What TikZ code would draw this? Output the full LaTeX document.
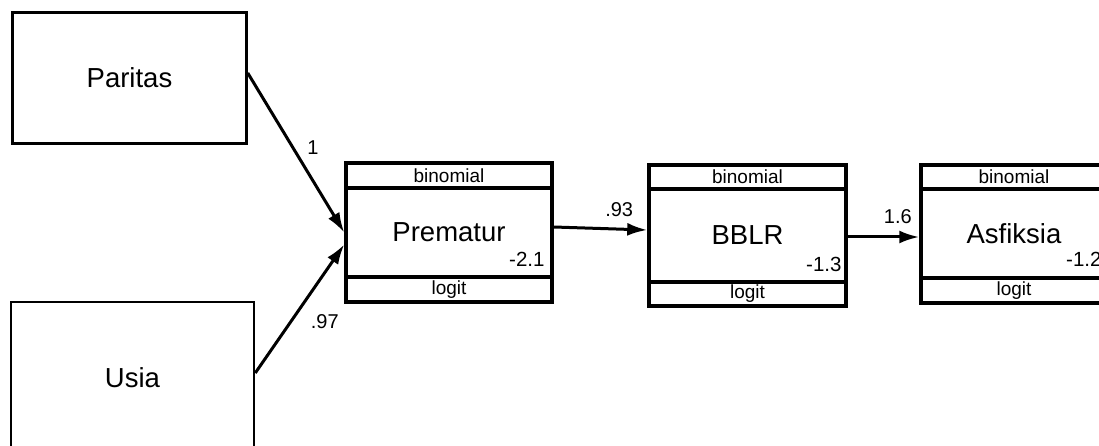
\documentclass[tikz,border=0pt]{standalone}
\usepackage{fontspec}
\setmainfont{Liberation Sans}
\usetikzlibrary{arrows.meta,positioning,calc}

\begin{document}
\begin{tikzpicture}[x=1pt,y=-1pt,
    exo/.style={draw,line width=2.5pt,font=\fontsize{27.5}{30}\selectfont},
    endo/.style={draw,line width=3.5pt,inner sep=0pt,font=\fontsize{27.5}{30}\selectfont},
    band/.style={draw,line width=3.5pt,inner sep=0pt,font=\fontsize{19}{21}\selectfont},
    icpt/.style={anchor=base east,inner sep=0pt,font=\fontsize{20.5}{22}\selectfont},
    link/.style={line width=3pt,-{Latex[length=20pt,width=13pt]}},
    coef/.style={inner sep=0pt,font=\fontsize{20}{22}\selectfont}]
    \path[use as bounding box,clip] (0,0) rectangle (1099,446);

    \node[exo,minimum width=234pt,minimum height=131pt] (par) at (129.5,78) {Paritas};
    \node[exo,minimum width=243pt,minimum height=152pt] (usia) at (132.5,378) {Usia};

    \node[endo,minimum width=206pt,minimum height=139pt] (prem) at (449,232.5) {Prematur};
    \node[band,minimum width=206pt,minimum height=25pt,anchor=north] (prem-t) at (prem.north) {binomial};
    \node[band,minimum width=206pt,minimum height=25pt,anchor=south] (prem-b) at (prem.south) {logit};
    \node[icpt] (prem-c) at ($(prem-b.north east)+(-9,-9)$) {-2.1};

    \node[endo,minimum width=197pt,minimum height=141pt] (bblr) at (747.5,235.5) {BBLR};
    \node[band,minimum width=197pt,minimum height=24pt,anchor=north] (bblr-t) at (bblr.north) {binomial};
    \node[band,minimum width=197pt,minimum height=24pt,anchor=south] (bblr-b) at (bblr.south) {logit};
    \node[icpt] (bblr-c) at ($(bblr-b.north east)+(-6,-9)$) {-1.3};

    \node[endo,minimum width=186pt,minimum height=138pt] (asf) at (1014,234) {Asfiksia};
    \node[band,minimum width=186pt,minimum height=24pt,anchor=north] (asf-t) at (asf.north) {binomial};
    \node[band,minimum width=186pt,minimum height=25pt,anchor=south] (asf-b) at (asf.south) {logit};
    \node[icpt] (asf-c) at ($(asf-b.north east)+(-7,-10)$) {-1.2};

    \draw[link] ([yshift=5pt]par.east) -- (prem.west)
        node[coef,pos=0.5,xshift=17pt,yshift=5pt] {1};
    \draw[link] ([yshift=5pt]usia.east) -- ([yshift=-12pt]prem.west)
        node[coef,pos=0.5,xshift=25pt,yshift=-13pt] {.97};
    \draw[link] ([yshift=5.5pt]prem.east) -- ([yshift=5.5pt]bblr.west)
        node[coef,pos=0.7,yshift=19pt] {.93};
    \draw[link] ([yshift=-1.5pt]bblr.east) -- ([yshift=-3pt]asf.west)
        node[coef,pos=0.7,yshift=20pt] {1.6};
\end{tikzpicture}
\end{document}
